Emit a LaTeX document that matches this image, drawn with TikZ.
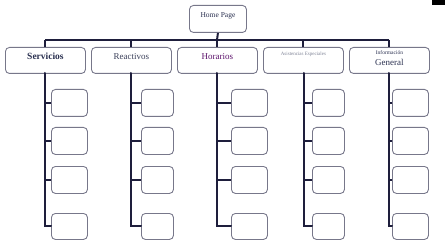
\documentclass[tikz,border=0pt]{standalone}
\usepackage{fontspec}
\setmainfont{Liberation Serif}
\begin{document}
\begin{tikzpicture}[x=1pt,y=-1pt,
  box/.style={draw=boxgray,line width=0.9pt,rounded corners=4pt,fill=white,inner sep=0pt,anchor=north west},
  conn/.style={draw=linenavy,line width=2pt},
  lbl/.style={text=textnavy}]
\definecolor{boxgray}{HTML}{77778A}
\definecolor{linenavy}{HTML}{1E1E3C}
\definecolor{textnavy}{HTML}{2A3050}
\useasboundingbox (0,0) rectangle (445,246);
\fill[black] (432,0) rectangle (445,5);
% home
\node[box,minimum width=57pt,minimum height=27pt] (h) at (189,5) {};
\node[lbl,font=\fontsize{7.5}{8}\selectfont] at ([yshift=3pt]h.center) {Home Page};
% level 1
\foreach \n/\x in {s/5,r/91,o/177,a/263,i/349}{
  \node[box,minimum width=80pt,minimum height=26pt] (\n) at (\x,47) {};
}
\node[text=textnavy,font=\fontsize{9.5}{10}\selectfont\bfseries] at ([yshift=4pt]s.center) {Servicios};
\node[text=textnavy!80!gray,font=\fontsize{9}{10}\selectfont] at ([yshift=4pt]r.center) {Reactivos};
\node[text=violet!60!textnavy,font=\fontsize{9}{10}\selectfont] at ([yshift=4pt]o.center) {Horarios};
\node[text=textnavy!60!white,font=\fontsize{5}{6}\selectfont] at ([yshift=6pt]a.center) {Asistencias Especiales};
\node[text=textnavy,font=\fontsize{5.5}{6}\selectfont] at ([yshift=8pt]i.center) {Información};
\node[text=textnavy,font=\fontsize{9}{10}\selectfont] at ([yshift=-2pt]i.center) {General};
% bus
\coordinate (bus) at (217,40);
\draw[conn] (h.south) -- (bus);
\draw[conn] (s.north |- bus) -- (i.north |- bus);
\foreach \n in {s,r,o,a,i}{ \draw[conn] (\n.north |- bus) -- (\n.north); }
% children
\foreach \n/\bx/\w in {s/51/36,r/141/32,o/231/36,a/312/32,i/392/36}{
  \node[box,minimum width=\w pt,minimum height=27pt] (\n1) at (\bx,89) {};
  \node[box,minimum width=\w pt,minimum height=27pt] (\n2) at (\bx,127) {};
  \node[box,minimum width=\w pt,minimum height=27pt] (\n3) at (\bx,166) {};
  \node[box,minimum width=\w pt,minimum height=26pt] (\n4) at (\bx,213) {};
}
\foreach \n/\vx in {s/45,r/131,o/217,a/304,i/389}{
  \coordinate (\n v) at (\vx,73);
  \draw[conn,line cap=round] (\n v) -- (\n v |- \n4.west) -- (\n4.west);
  \foreach \k in {1,2,3}{ \draw[conn] (\n v |- \n\k.west) -- (\n\k.west); }
}
\end{tikzpicture}
\end{document}
